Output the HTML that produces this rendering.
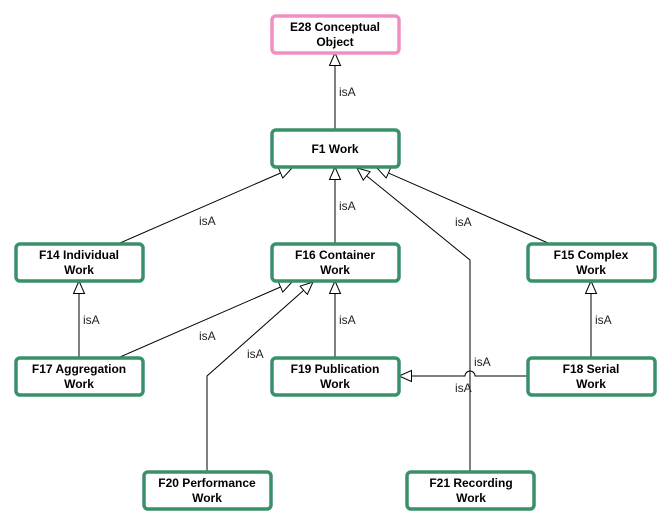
<!DOCTYPE html>
<html><head><meta charset="utf-8"><style>
body{margin:0;background:#fff;}
svg{display:block;font-family:"Liberation Sans",Arial,sans-serif;}
.b{font-weight:bold;font-size:12px;fill:#000;text-anchor:middle;}
.l{font-size:12px;fill:#222;}
</style></head><body>
<svg width="670" height="524" viewBox="0 0 670 524">
<defs>
<marker id="a" markerWidth="14" markerHeight="14" refX="13" refY="6" orient="auto" markerUnits="userSpaceOnUse">
<path d="M0.5,0.5 L13,6 L0.5,11.5 z" fill="#fff" stroke="#000" stroke-width="1"/>
</marker>
</defs>
<g stroke="#000" stroke-width="1" fill="none">
<line x1="335" y1="129" x2="335" y2="53" marker-end="url(#a)"/>
<line x1="120" y1="243" x2="292" y2="168" marker-end="url(#a)"/>
<line x1="335" y1="243" x2="335" y2="167" marker-end="url(#a)"/>
<polyline points="470,471 470,260 357,168" marker-end="url(#a)"/>
<line x1="548" y1="243" x2="377" y2="168" marker-end="url(#a)"/>
<line x1="79" y1="357" x2="79" y2="281" marker-end="url(#a)"/>
<line x1="120" y1="357" x2="292" y2="282" marker-end="url(#a)"/>
<polyline points="207,471 207,376 313,282" marker-end="url(#a)"/>
<line x1="335" y1="357" x2="335" y2="281" marker-end="url(#a)"/>
<line x1="591" y1="357" x2="591" y2="281" marker-end="url(#a)"/>
<path d="M527,376 L475,376 A5,5 0 0 0 465,376 L399,376" marker-end="url(#a)"/>
</g>
<g fill="#fff" stroke-width="3.5">
<rect x="272" y="16" width="127" height="37" rx="4" stroke="#f090c0"/>
<g stroke="#3a9068">
<rect x="272" y="130" width="127" height="37" rx="4"/>
<rect x="16" y="244" width="127" height="37" rx="4"/>
<rect x="272" y="244" width="127" height="37" rx="4"/>
<rect x="528" y="244" width="127" height="37" rx="4"/>
<rect x="16" y="358" width="127" height="37" rx="4"/>
<rect x="272" y="358" width="127" height="37" rx="4"/>
<rect x="528" y="358" width="127" height="37" rx="4"/>
<rect x="144" y="472" width="127" height="37" rx="4"/>
<rect x="407" y="472" width="127" height="37" rx="4"/>
</g>
</g>
<text class="b" x="335" y="31">E28 Conceptual</text><text class="b" x="335" y="46">Object</text>
<text class="b" x="335" y="153">F1 Work</text>
<text class="b" x="79" y="259">F14 Individual</text><text class="b" x="79" y="274">Work</text>
<text class="b" x="335" y="259">F16 Container</text><text class="b" x="335" y="274">Work</text>
<text class="b" x="591" y="259">F15 Complex</text><text class="b" x="591" y="274">Work</text>
<text class="b" x="79" y="373">F17 Aggregation</text><text class="b" x="79" y="388">Work</text>
<text class="b" x="335" y="373">F19 Publication</text><text class="b" x="335" y="388">Work</text>
<text class="b" x="591" y="373">F18 Serial</text><text class="b" x="591" y="388">Work</text>
<text class="b" x="207" y="487">F20 Performance</text><text class="b" x="207" y="502">Work</text>
<text class="b" x="471" y="487">F21 Recording</text><text class="b" x="471" y="502">Work</text>
<g class="l">
<text x="339" y="96">isA</text>
<text x="199" y="225">isA</text>
<text x="339" y="210">isA</text>
<text x="455" y="226">isA</text>
<text x="83" y="324">isA</text>
<text x="199" y="340">isA</text>
<text x="247" y="358">isA</text>
<text x="339" y="324">isA</text>
<text x="595" y="324">isA</text>
<text x="474" y="366">isA</text>
<text x="455" y="392">isA</text>
</g>
</svg>
</body></html>
